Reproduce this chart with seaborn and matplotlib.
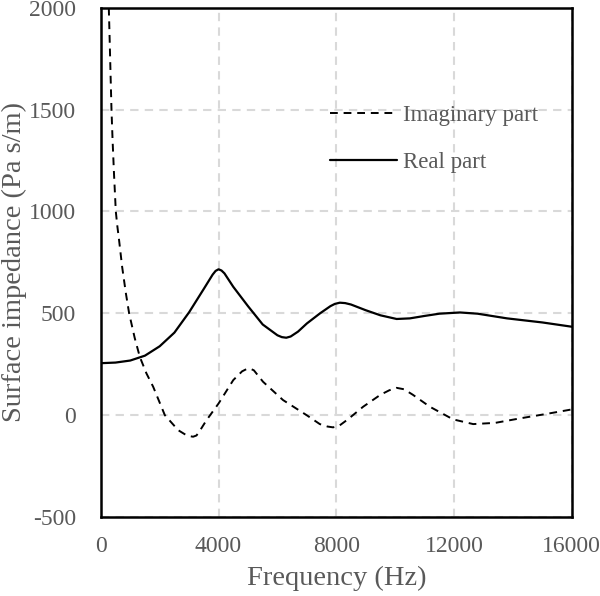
import numpy as np
import pandas as pd
import matplotlib
matplotlib.use("Agg")
import matplotlib.pyplot as plt
import seaborn as sns

# -----------------------------
# Data
# -----------------------------
real_freq = [0, 500, 1000, 1500, 2000, 2500, 3000, 3500, 3800, 3900, 4000, 4100, 4200,
             4500, 5000, 5500, 6000, 6150, 6300, 6450, 6700, 7000, 7450, 7800, 7950,
             8120, 8300, 8500, 9000, 9500, 10050, 10500, 11000, 11500, 12200, 12800,
             13800, 15000, 16000]
real_vals = [255, 258, 268, 292, 338, 405, 505, 620, 690, 708, 716, 710, 696,
             630, 535, 445, 392, 383, 380, 386, 410, 450, 500, 535, 546,
             552, 550, 543, 515, 490, 472, 475, 487, 498, 504, 498,
             475, 455, 434]

imag_freq = [272, 300, 330, 363, 400, 450, 510, 560, 620, 725, 850, 962, 1150,
             1325, 1550, 1780, 2175, 2630, 2900, 3050, 3136, 3250, 3350, 3590,
             4000, 4500, 4800, 4950, 5060, 5200, 5510, 6190, 6990, 7440, 7700,
             7890, 8100, 8400, 8910, 9500, 9800, 10045, 10300, 10600, 11180,
             11970, 12650, 13400, 14240, 15100, 16000]
imag_vals = [2000, 1850, 1680, 1500, 1350, 1180, 1000, 930, 860, 728, 600, 500, 380,
             286, 205, 139, 0, -74, -98, -104, -106, -100, -80, -25,
             57, 172, 215, 226, 229, 220, 164, 74, 0, -44, -56,
             -60, -52, -20, 41, 100, 122, 134, 127, 100, 41,
             -21, -44, -38, -16, 5, 28]

# -----------------------------
# Style
# -----------------------------
sns.set_style("white")
plt.rcParams['font.family'] = ['Liberation Serif', 'DejaVu Serif']
plt.rcParams['axes.unicode_minus'] = False
text_color = '#595959'

fig, ax = plt.subplots(figsize=(6.0, 5.96), dpi=100)
fig.subplots_adjust(left=0.168, right=0.953, top=0.987, bottom=0.1326)

df_imag = pd.DataFrame({'Frequency': imag_freq, 'Impedance': imag_vals})
df_real = pd.DataFrame({'Frequency': real_freq, 'Impedance': real_vals})

sns.lineplot(data=df_imag, x='Frequency', y='Impedance', ax=ax, color='black',
             linewidth=1.4, linestyle=(0, (4, 3)), label='Imaginary part', sort=False)
sns.lineplot(data=df_real, x='Frequency', y='Impedance', ax=ax, color='black',
             linewidth=1.6, label='Real part', sort=False)

ax.set_xlim(0, 16000)
ax.set_ylim(-500, 2000)
ax.set_xticks([0, 4000, 8000, 12000, 16000])
ax.set_yticks([-500, 0, 500, 1000, 1500, 2000])

ax.grid(True, color='#d9d9d9', linestyle=(0, (4, 3)), linewidth=1.5)
ax.set_axisbelow(True)

for s in ax.spines.values():
    s.set_color('black')
    s.set_linewidth(1.8)

ax.tick_params(axis='both', length=0, labelsize=17, labelcolor=text_color)
ax.tick_params(axis='x', pad=14)
ax.tick_params(axis='y', pad=18)

ax.set_xlabel("Frequency (Hz)", fontsize=20.5, color=text_color, labelpad=6)
ax.set_ylabel("Surface impedance (Pa s/m)", fontsize=20.5, color=text_color, labelpad=1)

leg = ax.legend(loc='upper left', bbox_to_anchor=(0.443, 0.85), frameon=False,
                fontsize=16.5, handlelength=2.9, handletextpad=0.3, labelspacing=1.15)
for t in leg.get_texts():
    t.set_color(text_color)

plt.savefig("out.png", dpi=100)
